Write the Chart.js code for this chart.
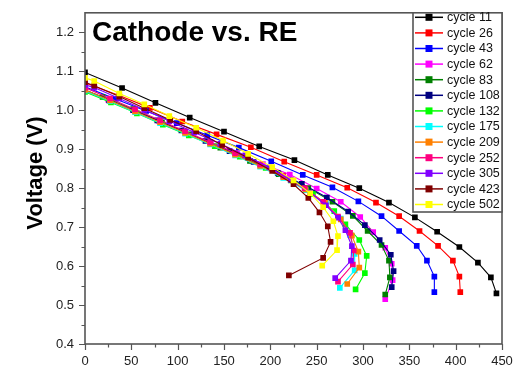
<!DOCTYPE html>
<html>
<head>
<meta charset="utf-8">
<script src="https://cdn.jsdelivr.net/npm/chart.js@4/dist/chart.umd.min.js"></script>
<style>
html,body{margin:0;padding:0;background:#fff;}
canvas{display:block;}
</style>
</head>
<body>
<canvas id="c" width="527" height="368"></canvas>
<script>
// ---- data ----
const seriesLabels = ['cycle 11','cycle 26','cycle 43','cycle 62','cycle 83','cycle 108','cycle 132','cycle 175','cycle 209','cycle 252','cycle 305','cycle 423','cycle 502'];
const seriesColors = ['#000000','#ff0000','#0000ff','#ff00ff','#008000','#000080','#00ff00','#00ffff','#ff8000','#ff0080','#8000ff','#800000','#ffff00'];

const x11 = [0,40,76,113,150,188,226,262,296,328,356,380,404,424,438,444];
const y11 = [1.097,1.057,1.019,0.981,0.945,0.907,0.872,0.834,0.800,0.763,0.725,0.688,0.649,0.609,0.571,0.530];
const x26 = [0,37,70,105,142,179,215,250,283,314,339,361,381,397,404,405];
const y26 = [1.070,1.038,1.006,0.971,0.938,0.905,0.868,0.834,0.801,0.763,0.728,0.690,0.652,0.614,0.573,0.533];
const x43 = [0,33,66,99,132,166,201,235,267,295,320,339,358,369,377,377];
const y43 = [1.060,1.029,0.998,0.967,0.936,0.904,0.869,0.834,0.802,0.766,0.728,0.690,0.652,0.614,0.573,0.533];
const x62 = [0,25,52,80,108,136,164,192,221,250,276,297,311,324,331,332,324];
const y62 = [1.052,1.027,1.000,0.972,0.944,0.917,0.889,0.862,0.835,0.799,0.765,0.726,0.687,0.647,0.606,0.564,0.515];
const x83 = [0,19,52,83,113,146,178,209,241,267,289,305,320,328,329,324];
const y83 = [1.052,1.034,1.003,0.969,0.938,0.904,0.870,0.836,0.800,0.765,0.729,0.690,0.654,0.614,0.571,0.527];
const x108 = [0,26,52,78,104,130,156,182,208,234,261,284,302,318,330,333,331];
const y108 = [1.050,1.025,1.000,0.974,0.948,0.921,0.895,0.867,0.839,0.811,0.776,0.740,0.705,0.667,0.629,0.587,0.546];
const x132 = [0,28,56,84,112,140,167,195,222,246,269,281,296,304,302,292];
const y132 = [1.047,1.020,0.992,0.963,0.935,0.908,0.881,0.852,0.820,0.785,0.741,0.707,0.667,0.626,0.582,0.540];
const x175 = [0,27,54,81,108,135,162,189,214,238,260,276,286,291,291,275];
const y175 = [1.050,1.023,0.995,0.967,0.940,0.912,0.884,0.855,0.826,0.795,0.760,0.722,0.680,0.631,0.589,0.544];
const x209 = [0,27,54,81,108,135,162,189,214,238,259,276,288,295,296,283];
const y209 = [1.052,1.025,0.997,0.969,0.942,0.914,0.886,0.857,0.828,0.797,0.762,0.720,0.678,0.637,0.596,0.554];
const x252 = [0,27,54,81,108,135,162,189,214,237,257,273,286,290,289,273];
const y252 = [1.058,1.030,1.002,0.974,0.946,0.918,0.890,0.861,0.832,0.800,0.765,0.727,0.685,0.640,0.604,0.560];
const x305 = [0,10,37,64,91,118,146,173,199,222,243,260,273,281,288,287,270];
const y305 = [1.065,1.058,1.030,1.001,0.972,0.943,0.914,0.884,0.853,0.821,0.788,0.756,0.724,0.692,0.651,0.614,0.569];
const x423 = [0,10,37,64,92,120,148,176,202,225,241,253,262,265,257,220];
const y423 = [1.072,1.063,1.035,1.005,0.975,0.946,0.911,0.878,0.844,0.810,0.775,0.738,0.702,0.662,0.621,0.576];
const x502 = [0,10,37,64,91,120,149,176,202,225,243,257,268,273,272,256];
const y502 = [1.083,1.075,1.043,1.015,0.985,0.955,0.922,0.888,0.854,0.820,0.787,0.751,0.715,0.677,0.641,0.601];

const xTickValues = [0,50,100,150,200,250,300,350,400,450];
const yTickValues = [0.4,0.5,0.6,0.7,0.8,0.9,1.0,1.1,1.2];
const titleText = 'Cathode vs. RE';
const yAxisTitle = 'Voltage (V)';

const xs = [x11,x26,x43,x62,x83,x108,x132,x175,x209,x252,x305,x423,x502];
const ys = [y11,y26,y43,y62,y83,y108,y132,y175,y209,y252,y305,y423,y502];

const FONT = '"Liberation Sans", Arial, Helvetica, sans-serif';

const datasets = seriesLabels.map((lab, i) => ({
  label: lab,
  data: xs[i].map((xv, k) => ({x: xv, y: ys[i][k]})),
  borderColor: seriesColors[i],
  backgroundColor: seriesColors[i],
  pointBackgroundColor: seriesColors[i],
  pointBorderWidth: 0,
  pointStyle: 'rect',
  pointRadius: 4,
  borderWidth: 1.1,
  showLine: true,
  tension: 0,
  order: seriesLabels.length - i
}));

const decor = {
  id: 'decor',
  afterDraw(chart) {
    const ctx = chart.ctx;
    const a = chart.chartArea;
    const xs_ = chart.scales.x, ys_ = chart.scales.y;
    ctx.save();
    // frame
    ctx.strokeStyle = '#555555';
    ctx.lineWidth = 1.6;
    ctx.strokeRect(a.left, a.top, a.right - a.left, a.bottom - a.top);
    // ticks
    ctx.lineWidth = 1.2;
    ctx.beginPath();
    for (let v = 0; v <= 450; v += 25) {
      const px = Math.round(xs_.getPixelForValue(v)) + 0.5;
      const len = (v % 50 === 0) ? 6 : 3.5;
      ctx.moveTo(px, a.bottom);
      ctx.lineTo(px, a.bottom + len);
    }
    for (let k = 8; k <= 24; k++) {
      const v = k * 0.05;
      const py = Math.round(ys_.getPixelForValue(v)) + 0.5;
      const len = (k % 2 === 0) ? 6 : 3.5;
      ctx.moveTo(a.left, py);
      ctx.lineTo(a.left - len, py);
    }
    ctx.stroke();

    // title
    ctx.fillStyle = '#000';
    ctx.font = 'bold 28px ' + FONT;
    ctx.textBaseline = 'alphabetic';
    ctx.textAlign = 'left';
    ctx.fillText(titleText, 92, 41);

    // y axis title
    ctx.save();
    ctx.translate(36, 173);
    ctx.rotate(-Math.PI / 2);
    ctx.font = 'bold 22px ' + FONT;
    ctx.textAlign = 'center';
    ctx.textBaseline = 'middle';
    ctx.fillText(yAxisTitle, 0, 0);
    ctx.restore();

    // legend
    const lx0 = 413, ly0 = a.top, lx1 = a.right, ly1 = 212;
    ctx.fillStyle = '#fff';
    ctx.fillRect(lx0, ly0, lx1 - lx0, ly1 - ly0);
    ctx.strokeStyle = '#555555';
    ctx.lineWidth = 1.6;
    ctx.strokeRect(lx0, ly0, lx1 - lx0, ly1 - ly0);
    ctx.font = '12.5px ' + FONT;
    ctx.textAlign = 'left';
    ctx.textBaseline = 'middle';
    seriesLabels.forEach((lab, i) => {
      const cy = 17.3 + i * 15.6;
      ctx.strokeStyle = seriesColors[i];
      ctx.lineWidth = 1.5;
      ctx.beginPath();
      ctx.moveTo(415, cy);
      ctx.lineTo(443, cy);
      ctx.stroke();
      ctx.fillStyle = seriesColors[i];
      ctx.fillRect(429 - 3.5, cy - 3.5, 7, 7);
      ctx.fillStyle = '#111';
      ctx.fillText(lab, 447, cy + 0.5);
    });
    ctx.restore();
  }
};

new Chart(document.getElementById('c'), {
  type: 'scatter',
  data: { datasets },
  options: {
    responsive: false,
    animation: false,
    devicePixelRatio: 1,
    layout: { padding: { top: 8, right: 25, left: 0, bottom: 0 } },
    plugins: { legend: { display: false }, tooltip: { enabled: false } },
    scales: {
      x: {
        type: 'linear',
        min: 0, max: 450,
        afterBuildTicks: (s) => { s.ticks = xTickValues.map(v => ({value: v})); },
        afterFit: (s) => { s.height = 24; },
        grid: { drawOnChartArea: false, tickLength: 6, color: 'rgba(0,0,0,0)', tickColor: 'rgba(0,0,0,0)' },
        border: { display: false },
        ticks: { font: { size: 13, family: FONT }, color: '#222', padding: 4, maxRotation: 0, autoSkip: false }
      },
      y: {
        type: 'linear',
        min: 0.4, max: 1.25,
        afterBuildTicks: (s) => { s.ticks = yTickValues.map(v => ({value: v})); },
        afterFit: (s) => { s.width = 85; },
        grid: { drawOnChartArea: false, tickLength: 6, color: 'rgba(0,0,0,0)', tickColor: 'rgba(0,0,0,0)' },
        border: { display: false },
        ticks: { font: { size: 13, family: FONT }, color: '#222', padding: 5, autoSkip: false,
                 callback: (v) => Number(v).toFixed(1) }
      }
    }
  },
  plugins: [decor]
});
</script>
</body>
</html>
